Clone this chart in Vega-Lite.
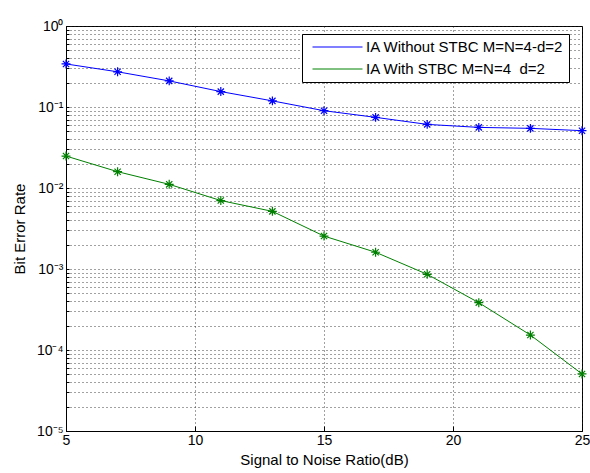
{
  "$schema": "https://vega.github.io/schema/vega-lite/v6.json",
  "width": 516,
  "height": 405,
  "autosize": "none",
  "padding": {"left": 66, "top": 26, "right": 8, "bottom": 42},
  "background": "white",
  "config": {
    "font": "Liberation Sans",
    "view": {"stroke": "black", "strokeWidth": 1},
    "axis": {
      "domainColor": "black",
      "tickColor": "black",
      "labelColor": "black",
      "titleColor": "black",
      "labelFont": "Liberation Sans",
      "titleFont": "Liberation Sans",
      "labelFontSize": 14,
      "titleFontSize": 15,
      "titleFontWeight": "normal",
      "gridColor": "#222222",
      "gridDash": [1, 3],
      "gridOpacity": 0.85,
      "gridWidth": 1
    }
  },
  "data": {
    "values": [
      {"snr": 5, "ber": 0.34, "series": "IA Without STBC M=N=4-d=2"},
      {"snr": 7, "ber": 0.272, "series": "IA Without STBC M=N=4-d=2"},
      {"snr": 9, "ber": 0.21, "series": "IA Without STBC M=N=4-d=2"},
      {"snr": 11, "ber": 0.155, "series": "IA Without STBC M=N=4-d=2"},
      {"snr": 13, "ber": 0.119, "series": "IA Without STBC M=N=4-d=2"},
      {"snr": 15, "ber": 0.09, "series": "IA Without STBC M=N=4-d=2"},
      {"snr": 17, "ber": 0.0745, "series": "IA Without STBC M=N=4-d=2"},
      {"snr": 19, "ber": 0.061, "series": "IA Without STBC M=N=4-d=2"},
      {"snr": 21, "ber": 0.056, "series": "IA Without STBC M=N=4-d=2"},
      {"snr": 23, "ber": 0.0545, "series": "IA Without STBC M=N=4-d=2"},
      {"snr": 25, "ber": 0.051, "series": "IA Without STBC M=N=4-d=2"},
      {"snr": 5, "ber": 0.0248, "series": "IA With STBC M=N=4\u00a0 d=2"},
      {"snr": 7, "ber": 0.0159, "series": "IA With STBC M=N=4\u00a0 d=2"},
      {"snr": 9, "ber": 0.0111, "series": "IA With STBC M=N=4\u00a0 d=2"},
      {"snr": 11, "ber": 0.007, "series": "IA With STBC M=N=4\u00a0 d=2"},
      {"snr": 13, "ber": 0.00515, "series": "IA With STBC M=N=4\u00a0 d=2"},
      {"snr": 15, "ber": 0.00255, "series": "IA With STBC M=N=4\u00a0 d=2"},
      {"snr": 17, "ber": 0.00161, "series": "IA With STBC M=N=4\u00a0 d=2"},
      {"snr": 19, "ber": 0.00086, "series": "IA With STBC M=N=4\u00a0 d=2"},
      {"snr": 21, "ber": 0.000384, "series": "IA With STBC M=N=4\u00a0 d=2"},
      {"snr": 23, "ber": 0.000153, "series": "IA With STBC M=N=4\u00a0 d=2"},
      {"snr": 25, "ber": 0.0000506, "series": "IA With STBC M=N=4\u00a0 d=2"}
    ]
  },
  "encoding": {
    "x": {
      "field": "snr",
      "type": "quantitative",
      "scale": {"domain": [5, 25], "nice": false, "zero": false},
      "axis": {
        "values": [5, 10, 15, 20, 25],
        "grid": true,
        "title": "Signal to Noise Ratio(dB)",
        "tickSize": -5,
        "labelPadding": 7,
        "titlePadding": 5,
        "labelFlush": false
      }
    },
    "y": {
      "field": "ber",
      "type": "quantitative",
      "scale": {"type": "log", "domain": [0.00001, 1], "nice": false},
      "axis": {
        "values": [0.00001, 0.00002, 0.00003, 0.00004, 0.00005, 0.00006, 0.00007, 0.00008, 0.00009,
                   0.0001, 0.0002, 0.0003, 0.0004, 0.0005, 0.0006, 0.0007, 0.0008, 0.0009,
                   0.001, 0.002, 0.003, 0.004, 0.005, 0.006, 0.007, 0.008, 0.009,
                   0.01, 0.02, 0.03, 0.04, 0.05, 0.06, 0.07, 0.08, 0.09,
                   0.1, 0.2, 0.3, 0.4, 0.5, 0.6, 0.7, 0.8, 0.9, 1],
        "grid": true,
        "title": "Bit Error Rate",
        "tickSize": -3,
        "labelPadding": 6,
        "titlePadding": 9,
        "labelOverlap": false,
        "labelFlush": false,
        "labelExpr": "datum.value == 1 ? '10⁰' : datum.value == 0.1 ? '10⁻¹' : datum.value == 0.01 ? '10⁻²' : datum.value == 0.001 ? '10⁻³' : datum.value == 0.0001 ? '10⁻⁴' : datum.value == 0.00001 ? '10⁻⁵' : ''"
      }
    },
    "color": {
      "field": "series",
      "type": "nominal",
      "sort": ["IA Without STBC M=N=4-d=2", "IA With STBC M=N=4\u00a0 d=2"],
      "scale": {
        "domain": ["IA Without STBC M=N=4-d=2", "IA With STBC M=N=4\u00a0 d=2"],
        "range": ["#0000ff", "#008000"]
      },
      "legend": {
        "title": null,
        "orient": "none",
        "legendX": 236,
        "legendY": 8,
        "symbolType": "stroke",
        "symbolSize": 2500,
        "symbolStrokeWidth": 1,
        "symbolOffset": 5,
        "clipHeight": 16,
        "labelFontSize": 15,
        "labelOffset": 3,
        "labelLimit": 400,
        "labelColor": "black",
        "labelFont": "Liberation Sans",
        "strokeColor": "black",
        "fillColor": "white",
        "padding": 5,
        "rowPadding": 6,
        "cornerRadius": 0
      }
    }
  },
  "layer": [
    {"mark": {"type": "line", "strokeWidth": 1}},
    {
      "mark": {
        "type": "point",
        "shape": "M-1,0L1,0M0,-1L0,1M-0.7,-0.7L0.7,0.7M-0.7,0.7L0.7,-0.7",
        "filled": false,
        "strokeWidth": 1.2,
        "size": 80,
        "opacity": 1
      }
    }
  ]
}
